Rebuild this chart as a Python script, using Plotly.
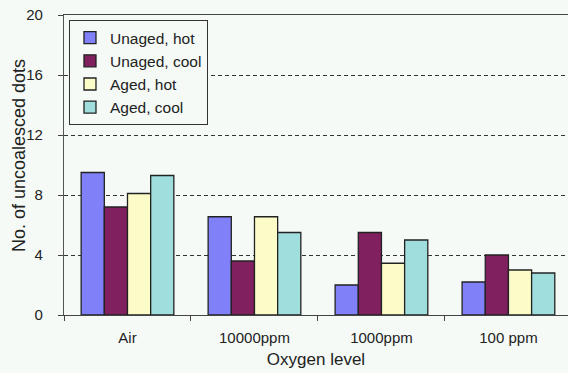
import plotly.graph_objects as go

categories = ["Air", "10000ppm", "1000ppm", "100 ppm"]
series_names = ["Unaged, hot", "Unaged, cool", "Aged, hot", "Aged, cool"]
unaged_hot = [9.5, 6.55, 2.0, 2.2]
unaged_cool = [7.2, 3.6, 5.5, 4.0]
aged_hot = [8.1, 6.55, 3.45, 3.0]
aged_cool = [9.3, 5.5, 5.0, 2.8]
y_tick_vals = [0, 4, 8, 12, 16, 20]
y_tick_text = ["0", "4", "8", "12", "16", "20"]

series_values = [unaged_hot, unaged_cool, aged_hot, aged_cool]
colors = ["#8080f8", "#80205f", "#fcfcc8", "#a0dede"]

BG = "#f5faf7"
FONT = "Liberation Sans, Arial, sans-serif"

fig = go.Figure()
for name, vals, col in zip(series_names, series_values, colors):
    fig.add_trace(go.Bar(
        x=categories, y=vals, name=name,
        marker=dict(color=col, line=dict(color="#222222", width=1.3)),
    ))

fig.update_layout(
    width=568, height=373,
    margin=dict(l=64, r=0, t=15, b=58),
    paper_bgcolor=BG, plot_bgcolor=BG,
    barmode="group", bargap=0.27, bargroupgap=0,
    font=dict(family=FONT, color="#222222", size=15),
    legend=dict(
        x=0.0099, y=0.983, xanchor="left", yanchor="top",
        bgcolor=BG, bordercolor="#333333", borderwidth=1,
        font=dict(size=15.5, family=FONT, color="#222222"),
        itemwidth=30, tracegroupgap=0,
    ),
    xaxis=dict(
        range=[-0.5, 3.469],
        showline=True, linecolor="#444444", linewidth=1.2, mirror=True,
        ticks="outside", ticklen=5, tickcolor="#444444", tickson="boundaries",
        ticklabelstandoff=9,
        tickfont=dict(size=15, family=FONT, color="#222222"),
        title=dict(text="Oxygen level", standoff=8,
                   font=dict(size=17, family=FONT, color="#222222")),
        showgrid=False, zeroline=False,
    ),
    yaxis=dict(
        range=[0, 20],
        tickvals=y_tick_vals, ticktext=y_tick_text,
        showline=True, linecolor="#555555", linewidth=1.2,
        ticks="outside", ticklen=5, tickcolor="#444444",
        ticklabelstandoff=12,
        tickfont=dict(size=15, family=FONT, color="#222222"),
        showgrid=True, gridcolor="#333333", gridwidth=1, griddash="4px,3px",
        zeroline=False,
    ),
    annotations=[dict(
        text="No. of uncoalesced dots", textangle=-90,
        xref="paper", yref="paper", x=-0.0893, y=0.533,
        xanchor="center", yanchor="middle", showarrow=False,
        font=dict(size=18, family=FONT, color="#222222"),
    )],
)

fig.write_html("out.html")
